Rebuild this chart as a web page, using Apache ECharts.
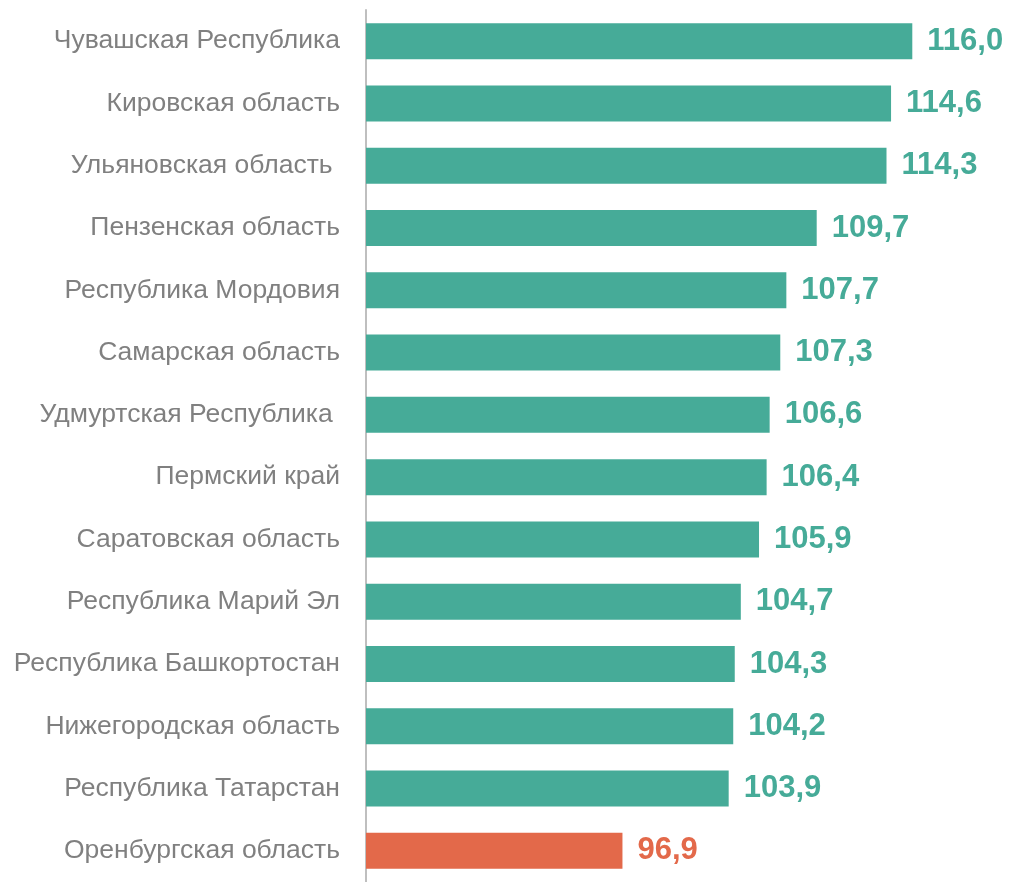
<!DOCTYPE html>
<html>
<head>
<meta charset="utf-8">
<script src="https://cdn.jsdelivr.net/npm/echarts@6/dist/echarts.min.js"></script>
<style>
  html, body { margin: 0; padding: 0; background: #fff; }
  #chart { width: 1013px; height: 882px; }
</style>
</head>
<body>
<div id="chart"></div>
<script>
var regions = [
    'Чувашская Республика',
    'Кировская область',
    'Ульяновская область ',
    'Пензенская область',
    'Республика Мордовия',
    'Самарская область',
    'Удмуртская Республика ',
    'Пермский край',
    'Саратовская область',
    'Республика Марий Эл',
    'Республика Башкортостан',
    'Нижегородская область',
    'Республика Татарстан',
    'Оренбургская область'
];
var values = [116.0, 114.6, 114.3, 109.7, 107.7, 107.3, 106.6, 106.4, 105.9, 104.7, 104.3, 104.2, 103.9, 96.9];
var highlight = 'Оренбургская область';

var tealColor = '#46ab98';
var orangeColor = '#e3694a';

var barData = [];
for (var i = 0; i < values.length; i++) {
    var c = regions[i] === highlight ? orangeColor : tealColor;
    barData.push({
        value: values[i],
        itemStyle: { color: c },
        label: { color: c }
    });
}

var myChart = echarts.init(document.getElementById('chart'));
var option = {
    animation: false,
    grid: { left: 366, top: 10, width: 607, height: 879 },
    xAxis: {
        type: 'value',
        min: 80,
        max: 120,
        show: false
    },
    yAxis: {
        type: 'category',
        inverse: true,
        data: regions,
        axisLine: { show: true, lineStyle: { color: '#bfbfbf', width: 2 } },
        axisTick: { show: false },
        axisLabel: {
            margin: 26,
            color: '#808080',
            fontSize: 26.5,
            fontFamily: 'Liberation Sans'
        }
    },
    series: [{
        type: 'bar',
        data: barData,
        barWidth: 36,
        label: {
            show: true,
            position: 'right',
            distance: 15,
            fontSize: 31,
            fontWeight: 'bold',
            fontFamily: 'Liberation Sans',
            formatter: function (p) { return p.value.toFixed(1).replace('.', ','); }
        }
    }]
};
myChart.setOption(option);
</script>
</body>
</html>
